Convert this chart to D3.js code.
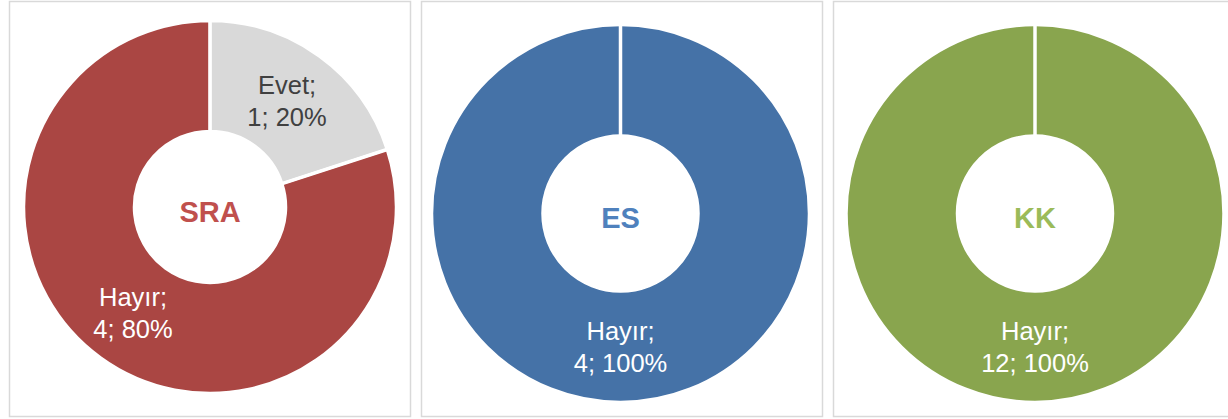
<!DOCTYPE html>
<html>
<head>
<meta charset="utf-8">
<script src="https://cdn.jsdelivr.net/npm/d3@7"></script>
<style>
  body { margin: 0; background: #fff; }
  svg { display: block; }
  text { font-family: "Liberation Sans", Arial, sans-serif; }
</style>
</head>
<body>
<svg id="chart" width="1228" height="419"></svg>
<script>
// Chart data
var chartNames = ["SRA", "ES", "KK"];
var categories = ["Evet", "Hayır"];
var sraValues = [1, 4];
var esValues = [0, 4];
var kkValues = [0, 12];

// Colours
var sliceColors = {
    SRA: ["#D9D9D9", "#AA4643"],
    ES: ["#D9D9D9", "#4572A7"],
    KK: ["#D9D9D9", "#89A54E"]
};
var titleColors = { SRA: "#C0504D", ES: "#4F81BD", KK: "#9BBB59" };
var labelColors = ["#404040", "#FFFFFF"];

// Layout of each panel (frame + donut)
var layout = [
    { x: 9.5, y: 1.5, w: 401, h: 415, cx: 210, cy: 207, outer: 186, inner: 76 },
    { x: 421.5, y: 1.5, w: 401, h: 415, cx: 620.5, cy: 213.5, outer: 188.5, inner: 78 },
    { x: 833.5, y: 1.5, w: 401, h: 415, cx: 1035, cy: 213.5, outer: 188.5, inner: 78 }
];

var svg = d3.select("#chart");
var allValues = [sraValues, esValues, kkValues];

var pie = d3.pie().sort(null).value(function (d) { return d.value; });

chartNames.forEach(function (name, i) {
    var L = layout[i];
    var values = allValues[i];
    var total = d3.sum(values);
    var data = categories.map(function (c, j) {
        return { cat: c, value: values[j], idx: j };
    });

    // panel frame
    svg.append("rect")
        .attr("x", L.x).attr("y", L.y)
        .attr("width", L.w).attr("height", L.h)
        .attr("fill", "#fff")
        .attr("stroke", "#D9D9D9")
        .attr("stroke-width", 1.5);

    var g = svg.append("g")
        .attr("transform", "translate(" + L.cx + "," + L.cy + ")");

    var arc = d3.arc().innerRadius(L.inner).outerRadius(L.outer);
    var arcs = pie(data);

    g.selectAll("path.slice")
        .data(arcs.filter(function (d) { return d.data.value > 0; }))
        .enter()
        .append("path")
        .attr("class", "slice")
        .attr("d", arc)
        .attr("fill", function (d) { return sliceColors[name][d.data.idx]; })
        .attr("stroke", "#fff")
        .attr("stroke-width", 2.5)
        .attr("stroke-linejoin", "miter");

    // seam line at slice start (visible even for a full ring)
    g.selectAll("line.seam")
        .data(arcs.filter(function (d) { return d.data.value > 0; }))
        .enter()
        .append("line")
        .attr("class", "seam")
        .attr("x1", function (d) { return (L.inner - 1) * Math.sin(d.startAngle); })
        .attr("y1", function (d) { return -(L.inner - 1) * Math.cos(d.startAngle); })
        .attr("x2", function (d) { return (L.outer + 1) * Math.sin(d.startAngle); })
        .attr("y2", function (d) { return -(L.outer + 1) * Math.cos(d.startAngle); })
        .attr("stroke", "#fff")
        .attr("stroke-width", 3.5);

    // data labels
    var labels = g.selectAll("text.lbl")
        .data(arcs.filter(function (d) { return d.data.value > 0; }))
        .enter()
        .append("text")
        .attr("class", "lbl")
        .attr("text-anchor", "middle")
        .attr("font-size", "25.5px")
        .attr("fill", function (d) { return labelColors[d.data.idx]; })
        .attr("transform", function (d) {
            var c = arc.centroid(d);
            return "translate(" + c[0] + "," + c[1] + ")";
        });

    labels.append("tspan")
        .attr("x", 0).attr("y", -7)
        .text(function (d) { return d.data.cat + ";"; });
    labels.append("tspan")
        .attr("x", 0).attr("y", 25)
        .text(function (d) {
            return d.data.value + "; " + Math.round(d.data.value / total * 100) + "%";
        });

    // centre title
    g.append("text")
        .attr("text-anchor", "middle")
        .attr("y", 14.5)
        .attr("font-size", "29px")
        .attr("font-weight", "bold")
        .attr("fill", titleColors[name])
        .text(name);
});
</script>
</body>
</html>
